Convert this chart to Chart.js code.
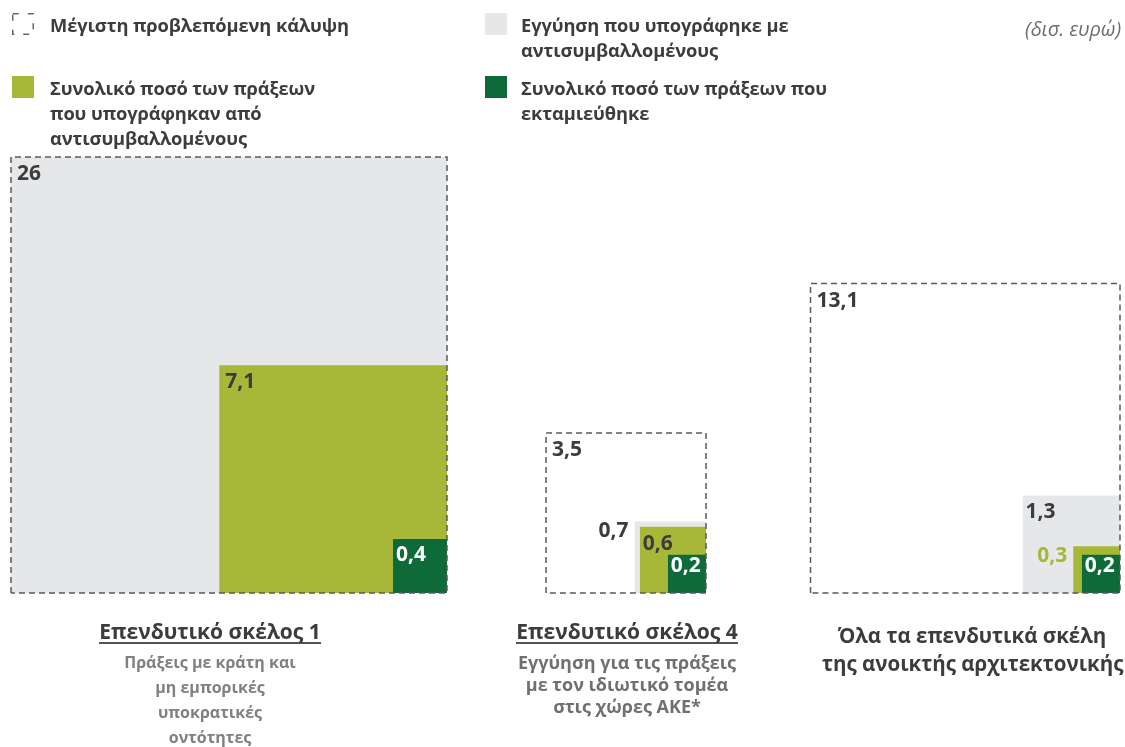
<!DOCTYPE html>
<html>
<head>
<meta charset="utf-8">
<script src="https://cdn.jsdelivr.net/npm/chart.js@4.4.1/dist/chart.umd.min.js"></script>
<style>
  body { margin: 0; background: #fff; font-family: "Open Sans", sans-serif; color: #3c3c3c; }
  #wrap { position: relative; width: 1125px; height: 747px; overflow: hidden; }
  #chart { position: absolute; left: 0; top: 0; }
  .txt { position: absolute; font-weight: 700; font-size: 18.3px; line-height: 25px; white-space: nowrap; letter-spacing: -0.1px; }
  .icon { position: absolute; width: 22px; height: 22px; }
  .title { position: absolute; font-weight: 700; font-size: 21px; line-height: 22px; text-align: center; white-space: nowrap; }
  .title u { text-decoration: none; display: inline-block; border-bottom: 2px solid #555; padding-bottom: 0; }
  .sub { position: absolute; font-weight: 700; font-size: 16px; line-height: 25px; color: #808080; text-align: center; white-space: nowrap; }
</style>
</head>
<body>
<div id="wrap">
  <canvas id="chart" width="1125" height="747"></canvas>

  <svg class="icon" style="left:12px;top:13px" viewBox="0 0 22 22">
    <rect x="0.75" y="0.75" width="20.5" height="20.5" fill="none" stroke="#666" stroke-width="1.5" stroke-dasharray="6 9"></rect>
  </svg>
  <div class="txt" style="left:50px;top:12px">Μέγιστη προβλεπόμενη κάλυψη</div>

  <div class="icon" style="left:12px;top:76px;background:#a7b838"></div>
  <div class="txt" style="left:50px;top:75px">Συνολικό ποσό των πράξεων<br>που υπογράφηκαν από<br>αντισυμβαλλομένους</div>

  <div class="icon" style="left:485px;top:13px;background:#e6e7e8"></div>
  <div class="txt" style="left:521px;top:12px">Εγγύηση που υπογράφηκε με<br>αντισυμβαλλομένους</div>

  <div class="icon" style="left:485px;top:76px;background:#0e6b39"></div>
  <div class="txt" style="left:521px;top:75px">Συνολικό ποσό των πράξεων που<br>εκταμιεύθηκε</div>

  <div class="txt" style="right:4px;top:16px;font-weight:400;font-style:italic;font-size:20px;color:#6d6d6d">(δισ. ευρώ)</div>

  <div class="title" style="left:60px;width:300px;top:620px"><u>Επενδυτικό σκέλος 1</u></div>
  <div class="sub" style="left:60px;width:300px;top:650px">Πράξεις με κράτη και<br>μη εμπορικές<br>υποκρατικές<br>οντότητες</div>

  <div class="title" style="left:477px;width:300px;top:620px"><u>Επενδυτικό σκέλος 4</u></div>
  <div class="sub" style="left:477px;width:300px;top:651px;font-size:18px;line-height:22px;color:#707070">Εγγύηση για τις πράξεις<br>με τον ιδιωτικό τομέα<br>στις χώρες ΑΚΕ*</div>

  <div class="title" style="left:822px;width:300px;top:621px;font-size:20.5px;line-height:28px">Όλα τα επενδυτικά σκέλη<br>της ανοικτής αρχιτεκτονικής</div>
</div>

<script>
// values in billion euro, one entry per investment window
const groups = ['Επενδυτικό σκέλος 1', 'Επενδυτικό σκέλος 4', 'Όλα τα επενδυτικά σκέλη'];
const maxCover = [26, 3.5, 13.1];
const guarantee = [26, 0.7, 1.3];
const signedOps = [7.1, 0.6, 0.3];
const disbursed = [0.4, 0.2, 0.2];

// layout (pixels on the chart scales)
const rightEdge = [447, 706, 1120];
const pxPerRoot = 436 / Math.sqrt(26); // square area ~ value

const sideOf = v => pxPerRoot * Math.sqrt(v);

// square outline as points, bottom-right corner fixed
function squarePts(v, right, closed) {
  const s = sideOf(v);
  const pts = [{x: right - s, y: 0}, {x: right - s, y: s}, {x: right, y: s}, {x: right, y: 0}];
  if (closed) pts.push({x: right - s, y: 0});
  return pts;
}

const datasets = [];
groups.forEach((g, i) => {
  datasets.push({ label: 'max', data: squarePts(maxCover[i], rightEdge[i], true), order: 0,
    borderColor: '#5a5a5a', borderWidth: 1.5, borderDash: [6, 4], fill: false });
  datasets.push({ label: 'disb', data: squarePts(disbursed[i], rightEdge[i]), order: 1,
    borderWidth: 0, backgroundColor: '#0e6b39', fill: 'origin' });
  datasets.push({ label: 'signed', data: squarePts(signedOps[i], rightEdge[i]), order: 2,
    borderWidth: 0, backgroundColor: '#a7b838', fill: 'origin' });
  datasets.push({ label: 'guar', data: squarePts(guarantee[i], rightEdge[i]), order: 3,
    borderWidth: 0, backgroundColor: '#e6e7e8', fill: 'origin' });
});

const fmt = v => String(v).replace('.', ',');

// which labels sit outside (to the left) of their square
const outsideLeft = { guar: [false, true, false], signed: [false, false, true] };
const labelColor = { max: '#3c3c3c', guar: '#3c3c3c', signed: ['#3c3c3c', '#3c3c3c', '#a7b838'], disb: '#ffffff' };

const valueLabels = {
  id: 'valueLabels',
  afterDatasetsDraw(chart) {
    const ctx = chart.ctx;
    const xs = chart.scales.x, ys = chart.scales.y;
    ctx.save();
    ctx.font = 'bold 21px "Open Sans"';
    ctx.textBaseline = 'middle';
    const series = [['max', maxCover], ['guar', guarantee], ['signed', signedOps], ['disb', disbursed]];
    groups.forEach((g, i) => {
      series.forEach(([key, arr]) => {
        if (key === 'guar' && guarantee[i] === maxCover[i]) return;
        const s = sideOf(arr[i]);
        const left = xs.getPixelForValue(rightEdge[i] - s);
        const top = ys.getPixelForValue(s);
        let c = labelColor[key];
        if (Array.isArray(c)) c = c[i];
        ctx.fillStyle = c;
        const out = outsideLeft[key] && outsideLeft[key][i];
        if (out) {
          ctx.textAlign = 'right';
          ctx.fillText(fmt(arr[i]), left - 6, top + 10);
        } else {
          ctx.textAlign = 'left';
          const dx = s > 100 ? 6 : 3;
          const dy = Math.min(17, s * 0.3);
          ctx.fillText(fmt(arr[i]), left + dx, top + dy);
        }
      });
    });
    ctx.restore();
  }
};

new Chart(document.getElementById('chart'), {
  type: 'scatter',
  data: { datasets },
  options: {
    responsive: false,
    animation: false,
    devicePixelRatio: 1,
    showLine: true,
    clip: false,
    layout: { padding: { left: 0, right: 0, top: 0, bottom: 154 } },
    elements: { point: { radius: 0, hoverRadius: 0 }, line: { tension: 0 } },
    scales: {
      x: { type: 'linear', min: 0, max: 1125, display: false },
      y: { type: 'linear', min: 0, max: 593, display: false }
    },
    plugins: { legend: { display: false }, tooltip: { enabled: false } }
  },
  plugins: [valueLabels]
});
</script>
</body>
</html>
